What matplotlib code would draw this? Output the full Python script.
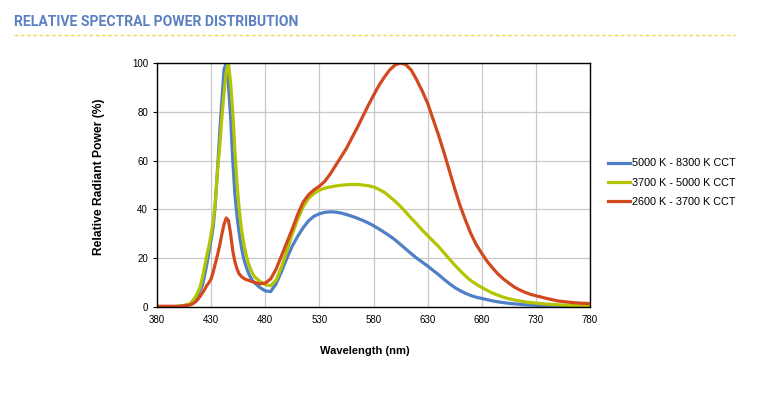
import matplotlib.pyplot as plt
from matplotlib.lines import Line2D

# wavelength grid (nm) shared by the three spectra
wavelength = [380, 390, 400, 405,
              410, 412, 414, 416, 418, 420, 422, 424, 426, 428, 430, 432, 434, 436, 438, 440,
              442, 444, 446, 448, 450, 452, 454, 456, 458, 460, 462, 464, 466, 468, 470,
              475, 480, 485, 490, 495, 500, 505, 510, 515, 520, 525, 530, 535, 540, 545,
              550, 555, 560, 565, 570, 575, 580, 585, 590, 595, 600, 605, 610, 615, 620, 625,
              630, 635, 640, 645, 650, 655, 660, 665, 670, 675, 680, 685, 690, 695, 700, 705,
              710, 715, 720, 725, 730, 740, 750, 760, 770, 780]

cct_5000_8300 = [0.1, 0.1, 0.2, 0.5,
                 1.0, 1.7, 2.6, 3.8, 5.2, 7, 9, 13, 17.5, 22.5, 27.5, 33, 43, 57, 72, 85,
                 97.5, 100, 91, 78, 60, 46, 37, 30, 24.5, 20, 17, 14.5, 12.5, 11, 10,
                 8, 6.6, 6.3, 9.5, 14.5, 20, 25, 29, 32.5, 35.3, 37.2, 38.2, 38.8, 39, 38.9,
                 38.5, 37.9, 37.2, 36.4, 35.5, 34.5, 33.3, 32, 30.6, 29.1, 27.5, 25.6, 23.7, 21.8, 20, 18.4,
                 16.8, 15, 13.3, 11.4, 9.6, 8, 6.7, 5.6, 4.7, 4, 3.5, 3, 2.5, 2.1, 1.8, 1.5,
                 1.3, 1.1, 0.9, 0.8, 0.7, 0.5, 0.4, 0.3, 0.2, 0.2]

cct_3700_5000 = [0.1, 0.1, 0.3, 0.7,
                 1.2, 2, 3.2, 4.5, 6.3, 8.5, 12, 16.5, 21, 25, 30, 35, 44, 56, 66, 78,
                 88, 96.5, 100, 92, 80, 64, 50, 40, 32, 26.5, 22, 18.5, 16, 14, 12.5,
                 10.5, 9.2, 8.7, 11, 16.5, 23, 30, 36, 41, 44.5, 46.5, 47.9, 48.7, 49.2, 49.6,
                 49.9, 50.1, 50.2, 50.2, 50, 49.7, 49.2, 48.2, 47, 45.2, 43.3, 41.2, 38.8, 36.3, 34, 31.5,
                 29.3, 27, 24.8, 22.3, 19.7, 17.2, 14.9, 12.7, 10.8, 9.3, 8, 6.8, 5.7, 4.8, 4, 3.4,
                 2.9, 2.5, 2.1, 1.8, 1.6, 1.2, 0.9, 0.7, 0.5, 0.4]

cct_2600_3700 = [0.3, 0.3, 0.3, 0.5,
                 0.8, 1.1, 1.6, 2.3, 3.3, 4.5, 5.8, 7.2, 8.8, 10, 11.5, 14.5, 18, 21.5, 25.5, 30,
                 34, 36.5, 35.5, 30, 23, 18.5, 15.5, 13.5, 12.5, 11.8, 11.3, 11, 10.7, 10.4, 10.1,
                 9.5, 9.8, 11.5, 15.5, 21, 26.5, 32, 38, 43, 46, 48, 49.5, 51.5, 54.5, 58,
                 61.5, 65, 69.3, 73.5, 78, 82.5, 86.7, 90.8, 94.2, 97.2, 99.2, 100, 99.3, 97, 93, 88.5,
                 83.5, 77, 70.5, 63.5, 56, 48.5, 41.5, 35.5, 30, 25.5, 22, 18.7, 16, 13.5, 11.5, 9.8,
                 8.2, 7, 6, 5.2, 4.6, 3.5, 2.5, 2, 1.6, 1.4]

series_labels = ["5000 K - 8300 K CCT", "3700 K - 5000 K CCT", "2600 K - 3700 K CCT"]
series_colors = ["#4f7fc6", "#b4c400", "#d2481f"]

x_ticks = [380, 430, 480, 530, 580, 630, 680, 730, 780]
y_ticks = [0, 20, 40, 60, 80, 100]

plt.rcParams['font.family'] = ['Liberation Sans', 'DejaVu Sans']

fig = plt.figure(figsize=(7.58, 3.97), dpi=100)
ax = fig.add_axes([0.2071, 0.2267, 0.5713, 0.6146])

for ys, lab, col in zip([cct_5000_8300, cct_3700_5000, cct_2600_3700], series_labels, series_colors):
    ax.plot(wavelength, ys, color=col, lw=2.3, label=lab, solid_joinstyle='round')

ax.set_xlim(380, 780)
ax.set_ylim(0, 100)
ax.set_xticks(x_ticks)
ax.set_yticks(y_ticks)
ax.grid(True, color='#c8c8c8', lw=0.9)
ax.set_axisbelow(True)
for s in ax.spines.values():
    s.set_color('black')
    s.set_linewidth(1.0)
ax.tick_params(axis='both', labelsize=7, length=3, width=0.8, colors='black')
ax.tick_params(axis='x', length=0, pad=6)

ax.set_xlabel("Wavelength (nm)", fontsize=8, fontweight='bold')
ax.set_ylabel("Relative Radiant Power (%)", fontsize=8.7, fontweight='bold')
ax.xaxis.set_label_coords(0.48, -0.16)
ax.yaxis.set_label_coords(-0.121, 0.533)

handles = [Line2D([], [], color=c, lw=2.3) for c in series_colors]
fig.legend(handles, series_labels, loc='center left', bbox_to_anchor=(0.797, 0.540),
           frameon=False, fontsize=7.8, handlelength=2.0, handletextpad=0.2,
           labelspacing=0.85, borderaxespad=0)

# header
fig.text(14 / 758, 1 - 22 / 397, "RELATIVE SPECTRAL POWER DISTRIBUTION", color='#5b80c2',
         fontsize=10.1, fontweight='bold', family='Roboto', va='center', ha='left')
fig.add_artist(Line2D([14 / 758, 735 / 758], [1 - 35 / 397, 1 - 35 / 397],
                      color='#f3d54a', lw=0.9, ls=(0, (3, 2))))

fig.savefig("out.png", dpi=100)
